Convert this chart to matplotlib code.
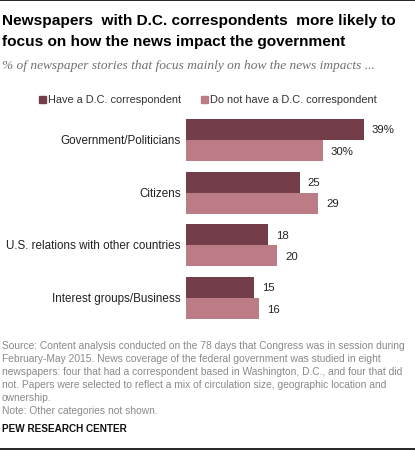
import numpy as np
import matplotlib
matplotlib.use('Agg')
from matplotlib import pyplot as plt
from matplotlib.patches import Rectangle
from matplotlib.lines import Line2D

categories = ['Government/Politicians', 'Citizens',
              'U.S. relations with other countries', 'Interest groups/Business']
have_dc = [39, 25, 18, 15]
no_dc = [30, 29, 20, 16]
series_names = ['Have a D.C. correspondent', 'Do not have a D.C. correspondent']

dark = '#733e49'
light = '#bb7c85'

W, H = 415, 452
fig = plt.figure(figsize=(W / 100, H / 100), dpi=100)
plt.rcParams['font.family'] = ['Liberation Sans', 'DejaVu Sans']

def fx(px):
    return px / W

def fy(py):
    return 1 - py / H

# top and bottom rules
fig.add_artist(Line2D([0, 1], [fy(1), fy(1)], color='black', lw=1.2))
fig.add_artist(Line2D([0, 1], [fy(450), fy(450)], color='black', lw=1.2))

fig.text(fx(2), fy(21), 'Newspapers  with D.C. correspondents  more likely to',
         fontsize=11.05, fontweight='bold', va='center', ha='left')
fig.text(fx(2), fy(42), 'focus on how the news impact the government',
         fontsize=11.05, fontweight='bold', va='center', ha='left')
fig.text(fx(2), fy(66), '% of newspaper stories that focus mainly on how the news impacts ...',
         fontsize=9.6, style='italic', family='Liberation Serif', color='#6f6f6f',
         va='center', ha='left')

# legend
fig.add_artist(Rectangle((fx(39), fy(104)), fx(7), 7 / H, color=dark))
fig.text(fx(48), fy(100), series_names[0], fontsize=7.9, color='#333333', va='center')
fig.add_artist(Rectangle((fx(201), fy(104)), fx(7), 7 / H, color=light))
fig.text(fx(210), fy(100), series_names[1], fontsize=7.9, color='#333333', va='center')

# bars
top_px, bot_px = 114.7, 325.3
ax = fig.add_axes([fx(186), fy(bot_px), fx(178), (bot_px - top_px) / H])
y = np.arange(len(categories))
h = 0.4
ax.barh(y - h / 2, have_dc, height=h, color=dark)
ax.barh(y + h / 2, no_dc, height=h, color=light)
ax.set_xlim(0, 39)
ax.set_ylim(3.5, -0.5)
ax.axis('off')

for i in range(len(categories)):
    s1 = f'{have_dc[i]}%' if i == 0 else str(have_dc[i])
    s2 = f'{no_dc[i]}%' if i == 0 else str(no_dc[i])
    ax.text(have_dc[i] + 1.7, y[i] - h / 2, s1, va='center', ha='left',
            fontsize=8.2, color='#222222')
    ax.text(no_dc[i] + 1.7, y[i] + h / 2, s2, va='center', ha='left',
            fontsize=8.2, color='#222222')
    ax.text(-1.2, y[i], categories[i], va='center', ha='right',
            fontsize=8.4, color='#222222', clip_on=False)

footer = ['Source: Content analysis conducted on the 78 days that Congress was in session during',
          'February-May 2015. News coverage of the federal government was studied in eight',
          'newspapers: four that had a correspondent based in Washington, D.C., and four that did',
          'not. Papers were selected to reflect a mix of circulation size, geographic location and',
          'ownership.',
          'Note: Other categories not shown.']
for k, line in enumerate(footer):
    fig.text(fx(2), fy(346 + k * 13), line, fontsize=7.35, color='#8a8a8a', va='center')
fig.text(fx(2), fy(429), 'PEW RESEARCH CENTER', fontsize=7.2, fontweight='bold',
         color='#111111', va='center')

fig.savefig('out.png', dpi=100)
